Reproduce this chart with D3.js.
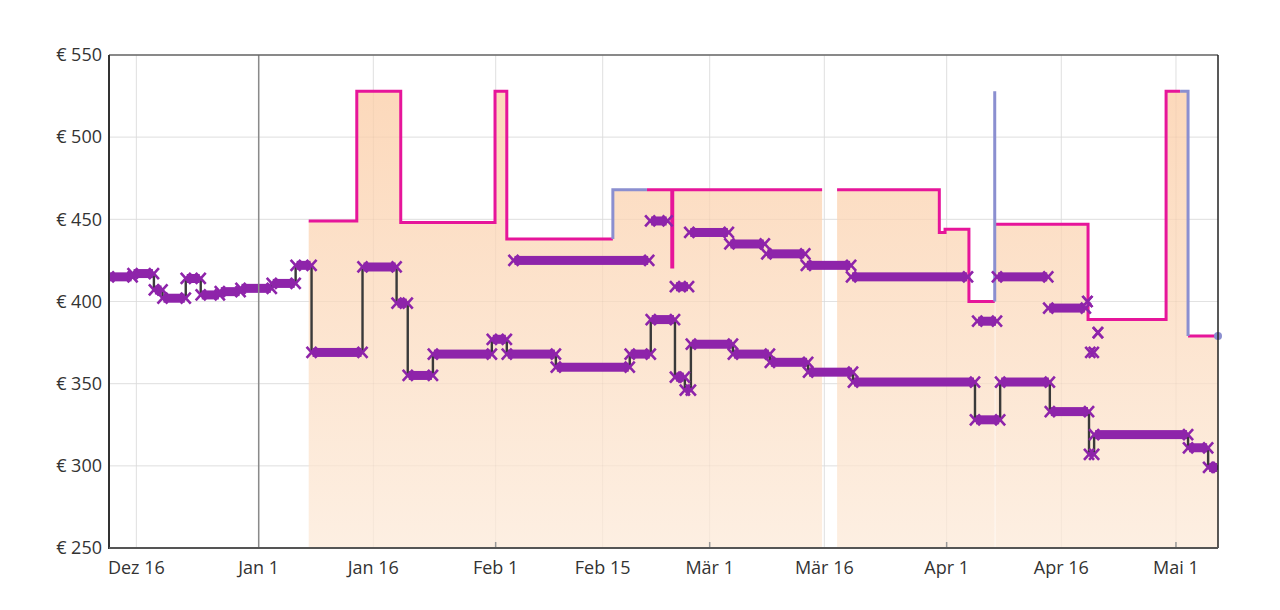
<!DOCTYPE html>
<html><head><meta charset="utf-8">
<script src="https://cdn.jsdelivr.net/npm/d3@7"></script>
<style>
html,body{margin:0;padding:0;background:#fff;}
svg{display:block;font-family:"Open Sans","Noto Sans",sans-serif;}
</style></head><body>
<svg id="chart" width="1280" height="610"></svg>
<script>
// ---------- data ----------
const domainDates = ["2018-12-12T10:00", "2019-05-06T12:00"];
const yTicks = [250, 300, 350, 400, 450, 500, 550];
const xTickDates = ["2018-12-16","2019-01-01","2019-01-16","2019-02-01","2019-02-15","2019-03-01","2019-03-16","2019-04-01","2019-04-16","2019-05-01"];
const xTickLabels = ["Dez 16","Jan 1","Jan 16","Feb 1","Feb 15","Mär 1","Mär 16","Apr 1","Apr 16","Mai 1"];
const monthTickDates = ["2019-02-01","2019-03-01","2019-04-01","2019-05-01"];
const yearLineDate = "2019-01-01";

// pink step series (null = no data)
const amazonDates = ["2019-01-07T13:00","2019-01-13T20:00","2019-01-19T14:00","2019-01-31T22:00","2019-02-02T11:00","2019-02-16T08:00","2019-02-16T08:00","2019-02-20T19:00","2019-02-24T01:00","2019-02-24T04:00","2019-03-15T17:00","2019-03-15T17:00","2019-03-17T16:00","2019-03-31T01:00","2019-03-31T19:00","2019-04-03T22:00","2019-04-07T07:00","2019-04-07T07:00","2019-04-07T09:00","2019-04-19T12:00","2019-04-29T17:00","2019-05-01T13:00","2019-05-01T13:00","2019-05-02T14:00","2019-05-06T12:00"];
const amazonValues = [449,528,448,528,438,438,null,468,421,468,468,null,468,442,444,400,400,null,447,389,528,528,null,379,379];

// blue-grey step series
const altDates = ["2019-02-16T08:00","2019-02-16T08:00","2019-02-20T19:00","2019-02-20T19:00","2019-04-07T07:00","2019-04-07T07:00","2019-04-07T07:00","2019-04-07T07:00","2019-05-01T13:00","2019-05-02T14:00","2019-05-02T14:00"];
const altValues = [438,468,468,null,400,528,447,null,528,528,379];
const lastDate = "2019-05-06T12:00";
const lastValue = 379;

// lower purple series (connected steps)
const newDates = ["2018-12-12T10:00","2018-12-15T12:00","2018-12-18T07:00","2018-12-19T10:00","2018-12-22T11:00","2018-12-24T10:00","2018-12-26T22:00","2018-12-29T15:00","2019-01-02T17:00","2019-01-05T20:00","2019-01-07T22:00","2019-01-14T14:00","2019-01-19T01:00","2019-01-20T12:00","2019-01-23T19:00","2019-01-31T12:00","2019-02-02T11:00","2019-02-08T21:00","2019-02-18T13:00","2019-02-21T07:00","2019-02-24T11:00","2019-02-25T18:00","2019-02-26T13:00","2019-03-04T01:00","2019-03-08T21:00","2019-03-13T21:00","2019-03-19T18:00","2019-04-04T17:00","2019-04-08T00:00","2019-04-14T12:00","2019-04-19T15:00","2019-04-20T07:00","2019-05-02T14:00","2019-05-05T05:00","2019-05-06T12:00"];
const newValues = [415,417,407,402,414,404,406,408,411,422,369,421,399,355,368,377,368,360,368,389,354,346,374,368,363,357,351,328,351,333,307,319,311,299,299];

// upper purple series (unconnected offers)
const offerStart = ["2019-02-03T08:00","2019-02-21T05:00","2019-02-24T11:00","2019-02-26T08:00","2019-03-03T14:00","2019-03-08T10:00","2019-03-13T14:00","2019-03-19T12:00","2019-04-05T00:00","2019-04-07T14:00","2019-04-14T07:00","2019-04-19T10:00","2019-04-19T19:00","2019-04-20T19:00"];
const offerEnd   = ["2019-02-21T02:00","2019-02-23T12:00","2019-02-26T07:00","2019-03-03T12:00","2019-03-08T05:00","2019-03-13T12:00","2019-03-19T12:00","2019-04-03T19:00","2019-04-07T14:00","2019-04-14T07:00","2019-04-19T05:00","2019-04-19T10:00","2019-04-20T06:00","2019-04-20T19:00"];
const offerValues = [425,449,409,442,435,429,422,415,388,415,396,400,369,381];

// ---------- setup ----------
const pT = d3.timeParse("%Y-%m-%dT%H:%M"), pD = d3.timeParse("%Y-%m-%d");
const parse = s => pT(s) || pD(s);
const svg = d3.select("#chart");
const L = 109, R = 1218, T = 55, B = 548;
const x = d3.scaleTime().domain(domainDates.map(parse)).range([L, R]);
const y = d3.scaleLinear().domain([250, 550]).range([B, T]);

const PINK = "#e6159a", BLUE = "#8b8fd0", PURPLE = "#8e24aa", DARK = "#3a3a3a";

const defs = svg.append("defs");
const grad = defs.append("linearGradient").attr("id", "fillGrad")
  .attr("gradientUnits", "userSpaceOnUse").attr("x1", 0).attr("y1", T).attr("x2", 0).attr("y2", B);
grad.append("stop").attr("offset", 0).attr("stop-color", "#fcd7b8");
grad.append("stop").attr("offset", 1).attr("stop-color", "#fdefe2");
defs.append("clipPath").attr("id", "plotClip").append("rect")
  .attr("x", L).attr("y", T - 2).attr("width", R - L).attr("height", B - T + 2);

// grid
const grid = svg.append("g");
grid.selectAll(".hg").data(yTicks).join("line")
  .attr("x1", L).attr("x2", R).attr("y1", d => y(d)).attr("y2", d => y(d))
  .attr("stroke", "#ebebeb").attr("stroke-width", 1.2);
grid.selectAll(".vg").data(xTickDates).join("line")
  .attr("x1", d => x(parse(d))).attr("x2", d => x(parse(d))).attr("y1", T).attr("y2", B)
  .attr("stroke", "#ebebeb").attr("stroke-width", 1.2);

const plot = svg.append("g").attr("clip-path", "url(#plotClip)");

// fill area (pink series, gaps bridged by blue series)
const amazonPts = amazonDates.map((d, i) => ({ t: parse(d), v: amazonValues[i] }));
const altPts = altDates.map((d, i) => ({ t: parse(d), v: altValues[i] }));
function altAt(t) {
  let idx = -1;
  altPts.forEach((p, i) => { if (+p.t <= +t) idx = i; });
  return idx >= 0 ? altPts[idx].v : null;
}
const fillPts = amazonPts.map(p => ({ t: p.t, v: p.v != null ? p.v : altAt(p.t) }));
plot.append("path").datum(fillPts)
  .attr("d", d3.area().defined(p => p.v != null).curve(d3.curveStepAfter)
    .x(p => x(p.t)).y0(y(250)).y1(p => y(p.v)))
  .attr("fill", "url(#fillGrad)");

// faint grid over fill
const grid2 = plot.append("g");
grid2.selectAll("line.h").data(yTicks).join("line")
  .attr("x1", L).attr("x2", R).attr("y1", d => y(d)).attr("y2", d => y(d))
  .attr("stroke", "rgba(0,0,0,0.035)");
grid2.selectAll("line.v").data(xTickDates).join("line")
  .attr("x1", d => x(parse(d))).attr("x2", d => x(parse(d))).attr("y1", T).attr("y2", B)
  .attr("stroke", "rgba(0,0,0,0.035)");

// year line
svg.append("line").attr("x1", x(parse(yearLineDate))).attr("x2", x(parse(yearLineDate)))
  .attr("y1", T).attr("y2", B).attr("stroke", "#8a8a8a").attr("stroke-width", 1.5);

// month ticks
svg.selectAll(".mt").data(monthTickDates).join("line")
  .attr("x1", d => x(parse(d))).attr("x2", d => x(parse(d))).attr("y1", B - 6).attr("y2", B)
  .attr("stroke", "#999").attr("stroke-width", 1.5);

// pink line
const stepLine = d3.line().defined(p => p.v != null).curve(d3.curveStepAfter).x(p => x(p.t)).y(p => y(p.v));
plot.append("path").datum(amazonPts).attr("d", stepLine)
  .attr("fill", "none").attr("stroke", PINK).attr("stroke-width", 3);
plot.append("path").datum(altPts).attr("d", stepLine)
  .attr("fill", "none").attr("stroke", BLUE).attr("stroke-width", 3);

// lower purple series connectors
const newPts = newDates.map((d, i) => ({ t: parse(d), v: newValues[i] }));
plot.append("path").datum(newPts).attr("d", stepLine)
  .attr("fill", "none").attr("stroke", DARK).attr("stroke-width", 2.4);

// bands of x markers
const segs = [];
for (let i = 0; i < newPts.length - 1; i++) segs.push({ a: newPts[i].t, b: newPts[i + 1].t, v: newPts[i].v });
offerValues.forEach((v, i) => segs.push({ a: parse(offerStart[i]), b: parse(offerEnd[i]), v }));

const bands = plot.append("g");
bands.selectAll("rect").data(segs).join("rect")
  .attr("x", s => x(s.a) + 1).attr("width", s => Math.max(0, x(s.b) - x(s.a) - 2))
  .attr("y", s => y(s.v) - 4.5).attr("height", 9)
  .attr("fill", PURPLE);
const ends = [];
segs.forEach(s => { ends.push({ t: s.a, v: s.v }); ends.push({ t: s.b, v: s.v }); });
bands.selectAll("path").data(ends).join("path")
  .attr("transform", p => `translate(${x(p.t)},${y(p.v)})`)
  .attr("d", "M-5,-5.5L5,5.5M-5,5.5L5,-5.5")
  .attr("stroke", PURPLE).attr("stroke-width", 2.6).attr("fill", "none");

// end dot
svg.append("circle").attr("cx", x(parse(lastDate))).attr("cy", y(lastValue)).attr("r", 4).attr("fill", BLUE);

// frame
svg.append("line").attr("x1", L).attr("x2", R).attr("y1", T).attr("y2", T).attr("stroke", "#666").attr("stroke-width", 1.5);
svg.append("line").attr("x1", R).attr("x2", R).attr("y1", T).attr("y2", B).attr("stroke", "#222").attr("stroke-width", 1.5);
svg.append("line").attr("x1", L).attr("x2", L).attr("y1", T).attr("y2", B + 1).attr("stroke", "#333").attr("stroke-width", 2);
svg.append("line").attr("x1", L).attr("x2", R).attr("y1", B).attr("y2", B).attr("stroke", "#555").attr("stroke-width", 2);

// labels
svg.selectAll(".yl").data(yTicks).join("text")
  .attr("x", L - 7).attr("y", d => y(d)).attr("dy", "0.35em")
  .attr("text-anchor", "end").attr("font-size", 18).attr("fill", "#333")
  .text(d => "€ " + d);
svg.selectAll(".xl").data(xTickDates).join("text")
  .attr("x", d => x(parse(d))).attr("y", 574)
  .attr("text-anchor", "middle").attr("font-size", 18).attr("fill", "#333")
  .text((d, i) => xTickLabels[i]);
</script>
</body></html>
